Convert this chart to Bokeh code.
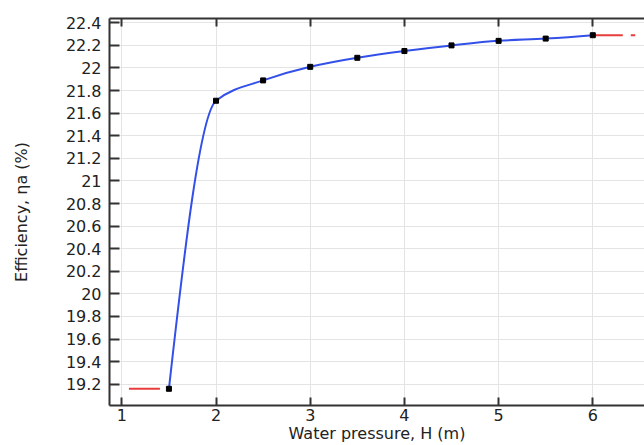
import numpy as np
from bokeh.plotting import figure
from bokeh.models import Range1d, FixedTicker, LinearAxis
from bokeh.embed import file_html
from bokeh.resources import INLINE

# ---- data ----
pressure = [1.5, 2.0, 2.5, 3.0, 3.5, 4.0, 4.5, 5.0, 5.5, 6.0]
efficiency = [19.16, 21.71, 21.89, 22.01, 22.09, 22.15, 22.20, 22.24, 22.26, 22.29]
extrap_left_x = [1.5, 1.0]
extrap_right_x = [6.0, 6.45]
x_ticks = [1, 2, 3, 4, 5, 6]
y_ticks = [19.2, 19.4, 19.6, 19.8, 20.0, 20.2, 20.4, 20.6, 20.8, 21.0,
           21.2, 21.4, 21.6, 21.8, 22.0, 22.2, 22.4]
y_tick_labels = ["19.2", "19.4", "19.6", "19.8", "20", "20.2", "20.4", "20.6",
                 "20.8", "21", "21.2", "21.4", "21.6", "21.8", "22", "22.2", "22.4"]

FONT = "DejaVu Sans"
AXIS_COLOR = "#333333"

p = figure(width=644, height=445, output_backend="svg", toolbar_location=None,
           x_range=Range1d(0.869, 6.549), y_range=Range1d(19.012, 22.438),
           min_border_left=109, min_border_right=0, min_border_top=18,
           min_border_bottom=10)
p.outline_line_color = None
p.background_fill_color = "white"

# grid
p.xgrid.ticker = FixedTicker(ticks=x_ticks)
p.ygrid.ticker = FixedTicker(ticks=y_ticks)
p.grid.grid_line_color = "#e4e4e4"
p.grid.grid_line_width = 1

# bottom axis
xa = p.xaxis[0]
xa.ticker = FixedTicker(ticks=x_ticks)
xa.axis_label = "Water pressure, H (m)"
# left axis
ya = p.yaxis[0]
ya.ticker = FixedTicker(ticks=y_ticks)
ya.major_label_overrides = {t: l for t, l in zip(y_ticks, y_tick_labels)}
ya.axis_label = "Efficiency, \u03b7a (%)"

for ax in (xa, ya):
    ax.axis_line_color = AXIS_COLOR
    ax.axis_line_width = 2
    ax.major_tick_line_color = AXIS_COLOR
    ax.major_tick_line_width = 2
    ax.major_tick_out = 0
    ax.minor_tick_line_color = None
    ax.major_label_text_font = FONT
    ax.major_label_text_font_size = "16px"
    ax.major_label_text_color = "#222222"
    ax.axis_label_text_font = FONT
    ax.axis_label_text_font_size = "16px"
    ax.axis_label_text_font_style = "normal"
    ax.axis_label_text_color = "#222222"

xa.major_tick_in = 8
xa.major_label_standoff = 3
xa.axis_label_standoff = 0
ya.major_tick_in = 10
ya.major_label_standoff = 8
ya.axis_label_standoff = 32

# top axis (frame line with inward ticks, no labels)
top = LinearAxis(ticker=FixedTicker(ticks=x_ticks),
                 major_label_overrides={t: "" for t in x_ticks},
                 major_label_standoff=0, axis_line_color=AXIS_COLOR, axis_line_width=2,
                 major_tick_line_color=AXIS_COLOR, major_tick_line_width=2,
                 major_tick_in=8, major_tick_out=0, minor_tick_line_color=None)
p.add_layout(top, "above")

# smooth monotone (PCHIP) curve through the data, drawn as Bezier segments
x = np.array(pressure)
y = np.array(efficiency)
h = np.diff(x)
delta = np.diff(y) / h
d = np.zeros_like(y)
for i in range(1, len(y) - 1):
    if delta[i - 1] * delta[i] > 0:
        w1 = 2 * h[i] + h[i - 1]
        w2 = h[i] + 2 * h[i - 1]
        d[i] = (w1 + w2) / (w1 / delta[i - 1] + w2 / delta[i])
def end_slope(h0, h1, d0, d1):
    s = ((2 * h0 + h1) * d0 - h0 * d1) / (h0 + h1)
    if np.sign(s) != np.sign(d0):
        s = 0.0
    elif np.sign(d0) != np.sign(d1) and abs(s) > abs(3 * d0):
        s = 3 * d0
    return s
d[0] = end_slope(h[0], h[1], delta[0], delta[1])
d[-1] = end_slope(h[-1], h[-2], delta[-1], delta[-2])

p.bezier(x0=x[:-1], y0=y[:-1], x1=x[1:], y1=y[1:],
         cx0=x[:-1] + h / 3, cy0=y[:-1] + d[:-1] * h / 3,
         cx1=x[1:] - h / 3, cy1=y[1:] - d[1:] * h / 3,
         line_color="#3350e8", line_width=2)

# constant extrapolation (red dashed)
p.line(extrap_left_x, [efficiency[0]] * 2, line_color="#e83c3c", line_width=2,
       line_dash="31 9", line_dash_offset=31)
p.line(extrap_right_x, [efficiency[-1]] * 2, line_color="#e83c3c", line_width=2,
       line_dash="30 8")

# data points
p.scatter(pressure, efficiency, marker="square", size=5, fill_color="black",
          line_color="black")

open("out.html", "w").write(file_html(p, INLINE))
